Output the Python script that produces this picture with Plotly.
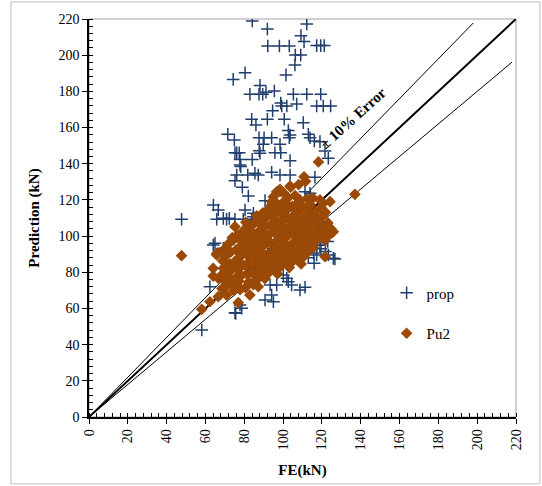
import plotly.graph_objects as go

# ---------------- data ----------------
prop_x = [84.1, 91.9, 112.2, 109.2, 110.8, 92.1, 98.1, 103.2, 117.3, 119.4, 121.2, 106.3, 109.1, 106.1,
          101.5, 80.4, 74.3, 88.1, 82.9, 87.6, 89.5, 91.2, 95.5, 105.3, 112.2, 119.4,
          98.8, 101.9, 99.3, 107.0, 117.3, 120.7, 124.5, 94.6, 83.8, 91.9, 100.6, 110.4, 86.0, 71.5, 74.9,
          102.7, 103.6, 87.6, 90.2, 94.1, 89.8, 103.2, 113.0, 113.9, 116.1, 119.0, 98.4, 76.1, 75.2, 77.4,
          87.7, 88.1, 95.8, 98.8, 121.6, 123.3, 77.8, 84.1, 103.6, 77.8, 78.2, 76.1, 81.8, 85.5, 87.2, 94.1,
          98.4, 103.6, 75.2, 79.0, 116.4,
          82.1, 90.7, 101.9, 105.3, 80.4, 84.7, 85.5, 64.1, 66.6, 65.8, 70.9, 75.2, 79.5, 84.7, 69.2, 72.3,
          83.8, 91.5, 93.3, 64.9, 69.2, 64.0, 111.3, 113.9, 101.0, 107.0, 111.3, 117.3, 119.0, 123.3, 125.9,
          126.7, 117.3, 47.7,
          95.0, 100.0, 105.0, 108.0, 112.0, 115.0, 118.0, 120.0, 122.0, 110.0, 113.0, 116.0, 104.0, 98.0,
          90.0, 86.0, 92.0, 80.0, 88.0, 96.0, 102.0, 107.0, 100.0, 85.0, 120.0, 123.0, 110.0, 114.0, 118.0,
          62.3, 75.2, 58.1, 93.3, 96.7, 94.1, 95.0, 102.7, 104.4, 111.3, 100.1, 101.9, 75.6, 78.7, 77.8,
          90.7, 108.7, 119.5, 121.8, 115.8]
prop_y = [218.9, 214.5, 217.2, 210.8, 207.5, 205.1, 205.1, 205.1, 205.3, 205.3, 205.3, 200.1, 200.1, 194.6,
          189.1, 190.3, 186.6, 183.3, 178.4, 178.4, 178.4, 179.5, 180.2, 178.4, 178.4, 178.4,
          173.5, 171.9, 171.9, 173.0, 171.9, 171.9, 171.9, 169.3, 164.6, 164.6, 164.6, 162.7, 161.4, 156.3, 153.1,
          158.3, 155.9, 154.4, 154.4, 154.4, 150.7, 154.4, 156.3, 154.4, 152.6, 152.2, 150.7, 146.1, 146.1, 146.1,
          147.2, 145.8, 146.1, 146.1, 147.0, 143.0, 142.4, 142.4, 141.7, 139.3, 138.4, 133.8, 133.8, 134.7, 133.8, 135.3,
          133.8, 133.8, 130.6, 127.0, 132.5,
          122.2, 119.6, 117.2, 114.4, 114.4, 112.6, 109.3, 117.2, 114.4, 109.3, 109.3, 109.3, 109.3, 110.7, 109.8, 109.8,
          108.9, 105.2, 104.3, 96.0, 93.3, 95.1, 124.5, 123.7, 117.2, 115.4, 114.4, 95.0, 95.0, 89.6, 87.7,
          87.3, 89.6, 109.3,
          110.0, 108.0, 105.0, 100.0, 98.0, 104.0, 108.0, 112.0, 105.0, 92.0, 88.0, 85.0, 86.0, 84.0,
          88.0, 82.0, 95.0, 100.0, 102.0, 100.0, 95.0, 92.0, 90.0, 95.0, 100.0, 97.0, 108.0, 112.0, 100.0,
          72.0, 57.6, 48.1, 73.0, 73.0, 67.4, 63.7, 74.8, 73.0, 71.7, 78.5, 76.7, 57.3, 60.1, 61.9,
          64.7, 70.2, 93.0, 91.5, 90.6]

pu2_x = [47.7, 137.0, 58.1, 62.3, 66.6, 70.9, 76.9, 82.9, 64.0, 64.0, 66.6, 69.2, 65.8, 70.9, 73.5, 70.9,
         87.2, 86.4, 74.3, 78.7, 75.2, 79.5, 82.9, 69.2, 65.8, 87.2, 88.1, 94.1, 93.3, 95.8, 96.7, 98.4,
         95.0, 94.1, 103.9, 98.4, 103.6, 110.8, 118.2, 108.7, 115.4, 119.0, 120.7, 124.2, 125.9, 123.3, 121.6,
         108.0, 111.6,
         68.5, 69.8, 71.2, 72.6, 68.9, 70.4, 73.1, 71.7, 73.8, 72.2, 73.9, 69.3,
         74.6, 76.1, 77.8, 75.3, 78.4, 76.7, 79.2, 74.9, 77.3, 79.6, 75.8, 78.1, 76.4, 79.3, 77.2,
         80.6, 82.3, 84.7, 81.4, 83.9, 85.6, 80.9, 82.8, 85.2, 81.7, 84.1, 80.4, 83.2, 85.8, 81.6, 84.4, 82.5, 85.3, 80.8,
         86.8, 88.9, 90.6, 87.4, 89.8, 91.5, 86.5, 88.7, 91.1, 87.6, 90.3, 86.9, 89.4, 91.8, 87.8, 90.5, 88.3, 91.2, 89.6, 86.4,
         92.6, 94.8, 97.1, 93.4, 95.9, 97.8, 92.9, 95.2, 97.5, 93.7, 96.4, 92.4, 94.9, 97.6, 93.6, 96.2, 98.1, 94.3, 96.8, 92.8, 97.4,
         98.7, 100.9, 103.2, 99.4, 101.8, 103.7, 98.9, 101.3, 103.5, 99.8, 102.4, 98.5, 100.7, 103.1, 99.6, 102.1, 104.0, 98.8,
         101.2, 103.5, 99.9, 102.6, 100.4,
         104.8, 107.1, 109.3, 105.5, 107.9, 109.8, 104.6, 106.8, 109.1, 105.4, 107.6, 109.6, 104.9, 107.2, 109.4, 105.8, 108.3,
         104.7, 107.5, 109.7, 106.2,
         110.6, 112.9, 111.3, 113.8, 115.6, 110.9, 113.2, 115.4, 111.7, 114.3, 110.4, 112.8, 115.1, 111.6, 114.1, 112.5,
         117.4, 119.8, 121.6, 116.9, 119.2, 121.4, 117.8, 120.3, 116.6, 119.5, 121.8,
         122.8, 124.6, 123.1, 125.2]
pu2_y = [89.2, 123.1, 59.5, 63.7, 66.5, 67.4, 63.2, 67.4, 82.2, 77.9, 76.7, 82.2, 89.6, 78.5, 73.5, 72.4,
         72.0, 75.7, 97.8, 96.9, 105.2, 103.0, 103.4, 92.3, 90.4, 109.8, 108.0, 117.2, 113.5, 119.0, 124.5, 124.6,
         121.8, 119.0, 127.0, 125.9, 127.7, 132.8, 141.0, 120.0, 121.0, 120.0, 118.1, 119.0, 102.4, 100.6, 88.6,
         128.5, 130.3,
         71.0, 75.4, 80.1, 84.7, 86.3, 88.9, 91.2, 95.6, 99.1, 77.3, 81.8, 79.6,
         69.8, 72.9, 70.4, 76.6, 78.2, 81.5, 84.1, 85.7, 88.2, 90.7, 92.4, 94.3, 100.6, 99.2, 75.1,
         71.5, 74.6, 73.2, 78.9, 80.4, 77.8, 83.6, 86.1, 84.9, 89.3, 91.8, 93.7, 95.4, 97.3, 98.9, 100.6, 105.9, 107.2, 107.6,
         78.9, 80.7, 76.5, 83.9, 85.6, 82.3, 88.4, 90.9, 89.2, 93.8, 95.1, 97.6, 99.8, 98.1, 102.9, 104.6, 106.8, 110.4, 112.9, 111.2,
         79.8, 81.9, 79.1, 85.4, 87.3, 84.8, 90.4, 92.6, 90.1, 95.8, 97.2, 100.3, 102.5, 100.9, 106.2, 108.4, 105.3, 111.1, 113.6, 115.2, 116.8,
         83.2, 85.7, 82.6, 88.9, 90.6, 87.9, 93.7, 95.4, 93.1, 98.6, 100.2, 102.7, 104.9, 103.6, 108.2, 110.3, 107.9, 112.6,
         114.8, 116.1, 118.5, 121.2, 123.7,
         85.9, 87.4, 84.6, 90.8, 92.9, 90.2, 95.7, 97.9, 96.3, 101.2, 103.4, 100.8, 106.1, 108.7, 106.4, 111.9, 113.6,
         116.4, 118.3, 116.9, 122.4,
         88.7, 91.4, 94.6, 96.9, 93.8, 99.5, 101.8, 99.2, 104.6, 106.8, 109.7, 111.5, 109.3, 114.8, 117.3, 120.6,
         98.1, 100.4, 97.6, 103.2, 105.8, 103.1, 108.7, 110.9, 113.4, 115.6, 113.2,
         99.6, 104.1, 107.3, 101.9]

# reference lines (perfect agreement and +/-10 %)
line_equal_x = [0, 220]
line_equal_y = [0, 220]
line_upper_x = [0, 198]
line_upper_y = [0, 217.8]
line_lower_x = [0, 218]
line_lower_y = [0, 196.2]

axis_ticks = list(range(0, 221, 20))

SERIF = "Liberation Serif, Times New Roman, serif"
BLUE = "#213F6E"
BROWN = "#9A4A06"

fig = go.Figure()

# lines drawn first so markers sit on top of them
fig.add_trace(go.Scatter(x=line_upper_x, y=line_upper_y, mode="lines", showlegend=False,
                         line=dict(color="black", width=1), hoverinfo="skip"))
fig.add_trace(go.Scatter(x=line_lower_x, y=line_lower_y, mode="lines", showlegend=False,
                         line=dict(color="black", width=1), hoverinfo="skip"))
fig.add_trace(go.Scatter(x=line_equal_x, y=line_equal_y, mode="lines", showlegend=False,
                         line=dict(color="black", width=2), hoverinfo="skip"))

fig.add_trace(go.Scatter(
    x=prop_x, y=prop_y, mode="markers", name="prop", legendgroup="a",
    marker=dict(symbol="cross-thin", size=9, line=dict(color=BLUE, width=1.5), color=BLUE),
))
fig.add_trace(go.Scatter(
    x=pu2_x, y=pu2_y, mode="markers", name="Pu2", legendgroup="b",
    marker=dict(symbol="diamond", size=9, color=BROWN, line=dict(width=0)),
))

axis_common = dict(
    range=[0, 220], tickvals=axis_ticks, ticktext=[str(v) for v in axis_ticks],
    showgrid=False, zeroline=False, showline=True, linecolor="black", linewidth=1.5,
    ticks="outside", ticklen=5, tickwidth=1.2, tickcolor="black",
    minor=dict(dtick=4, ticks="inside", ticklen=4, tickwidth=1, tickcolor="black"),
    tickfont=dict(family=SERIF, size=14, color="black"),
    automargin=False,
)

fig.update_layout(
    width=542, height=486,
    margin=dict(l=89, r=26, t=19, b=69),
    paper_bgcolor="white", plot_bgcolor="white",
    font=dict(family=SERIF, color="black"),
    xaxis=dict(**axis_common, tickangle=-90,
               title=dict(text="<b>FE(kN)</b>", font=dict(family=SERIF, size=15), standoff=15)),
    yaxis=dict(**axis_common,
               title=dict(text="<b>Prediction (kN)</b>", font=dict(family=SERIF, size=15), standoff=15)),
    legend=dict(x=0.697, y=0.353, xanchor="left", yanchor="top", bgcolor="rgba(0,0,0,0)",
                font=dict(family=SERIF, size=15, color="black"), tracegroupgap=18,
                itemwidth=30),
    showlegend=True,
    shapes=[
        dict(type="rect", xref="paper", yref="paper", x0=0, y0=0, x1=1, y1=1,
             line=dict(color="#A6A0A8", width=1), layer="below"),
        dict(type="rect", xref="paper", yref="paper", x0=-0.1827, y0=-0.168, x1=1.056, y1=1.043,
             line=dict(color="#BFBFBF", width=1), layer="below"),
    ],
    annotations=[
        dict(x=136.0, y=165.5, xref="x", yref="y", text="<b>± 10% Error</b>", showarrow=False,
             textangle=-42, font=dict(family=SERIF, size=15, color="black")),
    ],
)

fig.write_html("out.html")
